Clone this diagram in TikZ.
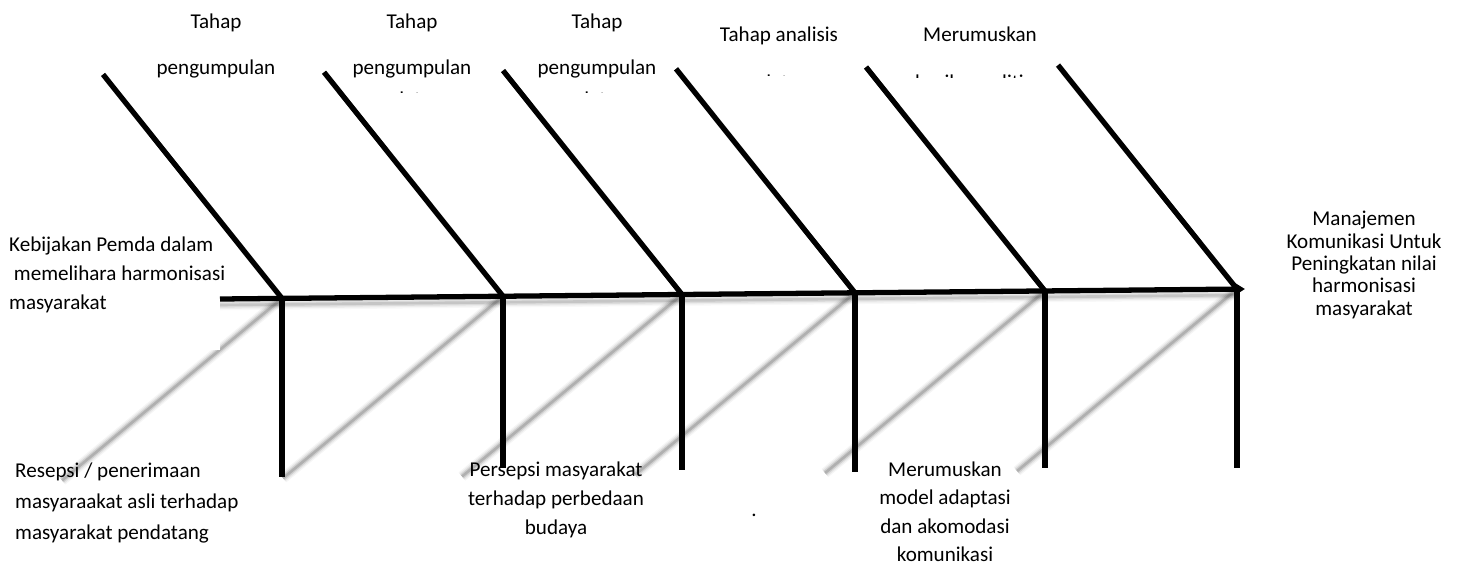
\documentclass[tikz,border=0pt]{standalone}
\usepackage{fontspec}
\setmainfont{Carlito}
\usetikzlibrary{calc,arrows.meta}

\tikzset{
  bone/.style={line width=6pt, black},
  lbl/.style={inner sep=0pt, font=\fontsize{24}{33}\selectfont},
  cut/.style={inner sep=0pt, font=\fontsize{24}{33}\selectfont, anchor=base}
}

\begin{document}
\begin{tikzpicture}[x=0.04cm,y=-0.04cm]
    \useasboundingbox (0,0) rectangle (1460,571);
    \coordinate (s0) at (220,299);
    \coordinate (s1) at (1245,289);
    \foreach \i/\x/\y/\b in {1/282/298.4/477, 2/503/296.2/468, 3/682/294.5/470,
                             4/855/292.8/472, 5/1045/291/468, 6/1237/289.1/468}
    {
      \coordinate (j\i) at (\x,\y);
      \coordinate (t\i) at (\x-179,\y-224);
      \coordinate (b\i) at (\x,\b);
      \coordinate (r\i) at (\x-220,\y+182);
    }

    \foreach \w/\o in {12/0.04, 9/0.06, 6/0.1, 3/0.15}
    {
      \foreach \i in {1,...,6}
        \draw[line width=\w pt, opacity=\o] (j\i) -- (r\i);
      \draw[line width=\w pt, opacity=0.7*\o] ($(s0)+(0,6)$) -- ($(j6)+(0,6)$);
    }
    \fill[white] (0,225) rectangle (220,350);

    \draw[bone, -{Triangle[length=12pt,width=14pt]}] (s0) -- (s1);
    \foreach \i in {1,...,6}
    {
      \draw[bone] (t\i) -- (j\i);
      \draw[bone] (j\i) -- (b\i);
    }

    \node[cut] (tahap1) at (216,28) {Tahap};
    \node[cut] (kumpul1) at (216,74) {pengumpulan};
    \node[cut] (tahap2) at (412,28) {Tahap};
    \node[cut] (kumpul2) at (412,74) {pengumpulan};
    \node[cut] (tahap3) at (597,28) {Tahap};
    \node[cut] (kumpul3) at (597,74) {pengumpulan};
    \node[cut] (analisis) at (779,41) {Tahap analisis};
    \node[cut] (rumus1) at (980,41) {Merumuskan};
    \begin{scope}
      \clip (340,0) rectangle (680,92);
      \node[cut] (data2) at (412,106) {data};
      \node[cut] (data3) at (597,106) {data};
    \end{scope}
    \begin{scope}
      \clip (700,0) rectangle (860,75.5);
      \node[cut] (data4) at (779,89) {data};
    \end{scope}
    \begin{scope}
      \clip (880,0) rectangle (1060,77);
      \node[cut] (hasil) at (980,89) {hasil penelitian};
    \end{scope}

    \node[lbl, align=left, anchor=north west] (pemda) at (9,237)
      {Kebijakan Pemda dalam\\\ memelihara harmonisasi\\masyarakat};
    \node[lbl, align=center, anchor=north, font=\fontsize{24}{25.5}\selectfont] (tujuan) at (1364,211)
      {Manajemen\\Komunikasi Untuk\\Peningkatan nilai\\harmonisasi\\masyarakat};
    \node[lbl, align=left, anchor=north west, font=\fontsize{24}{35}\selectfont] (resepsi) at (15,463)
      {Resepsi / penerimaan\\masyaraakat asli terhadap\\masyarakat pendatang};
    \node[lbl, align=center, anchor=north, font=\fontsize{24}{33}\selectfont] (persepsi) at (556,462)
      {Persepsi masyarakat\\terhadap perbedaan\\budaya};
    \node[cut] (titik) at (754,516) {.};
    \node[lbl, align=center, anchor=north, font=\fontsize{24}{32}\selectfont] (model) at (945,462)
      {Merumuskan\\model adaptasi\\dan akomodasi\\komunikasi};
\end{tikzpicture}
\end{document}
